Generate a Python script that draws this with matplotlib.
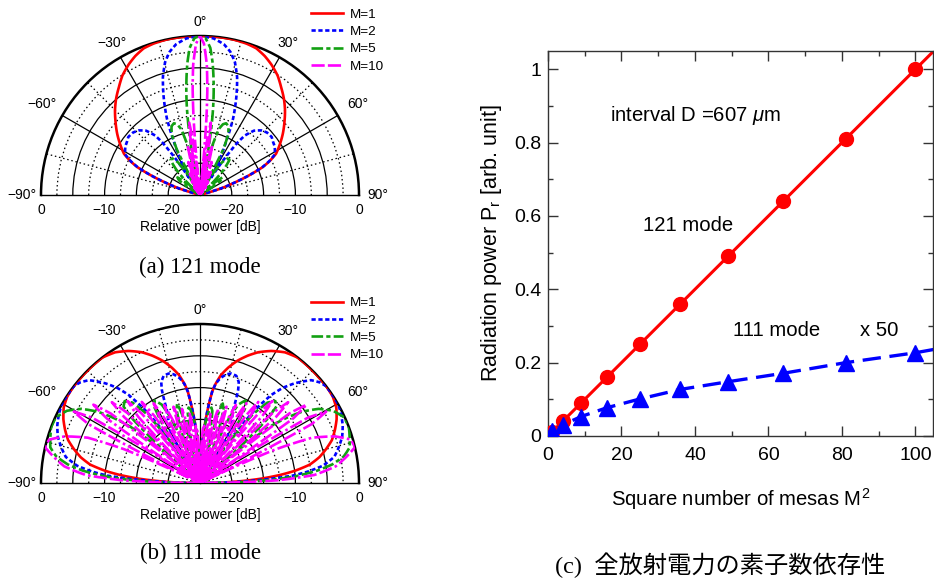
import numpy as np
import matplotlib
matplotlib.use("Agg")
import matplotlib.pyplot as plt
from matplotlib.ticker import MultipleLocator

plt.rcParams['font.family'] = ['Liberation Sans', 'DejaVu Sans']
plt.rcParams['mathtext.fontset'] = 'custom'
plt.rcParams['mathtext.rm'] = 'Liberation Sans'
plt.rcParams['mathtext.it'] = 'Liberation Sans:italic'

# ---- (a) 121 mode: right half of each pattern, angle [deg] -> relative power [dB]
#      (patterns are symmetric, the left half is the mirror image)
a_m1_th = [0, 6, 12, 17, 21, 25, 28.6, 33, 37, 41, 45, 49, 53.5, 57.5, 61.5, 64, 66, 68.6, 70.5,
           72.6, 74, 90]
a_m1_db = [0, 0, 0, -0.1, -0.3, -0.9, -1.6, -2.6, -3.8, -4.9, -6.1, -7.4, -8.8, -10.1, -11.4,
           -12.8, -14.2, -17.2, -19.5, -21.5, -25, -25]
a_m2_th = [0, 5, 9, 12, 14.7, 17.5, 20.1, 23.4, 25.9, 28.5, 31, 32.5, 34, 35.5, 37, 40, 43.5, 47,
           51, 54, 57, 61.5, 64, 66, 68.6, 70.5, 72.6, 74, 90]
a_m2_db = [0, -0.3, -1.0, -2.0, -3.4, -5.6, -8.3, -11.9, -15.5, -18.2, -20.5, -22, -18, -15, -13.3,
           -11.8, -11, -10.6, -10.5, -10.8, -11.0, -11.6, -12.9, -14.3, -17.2, -19.5, -21.5, -25, -25]
a_m5_th = [0, 2, 4, 5.5, 6.5, 7.5, 8.5, 9.5, 10.5, 11.5, 12.5, 14, 16, 18, 20, 22.5, 25, 27, 28.5,
           31, 34, 37, 40, 43, 45.5, 47, 49, 52, 55, 58, 60, 90]
a_m5_db = [0, -0.3, -1.8, -4.2, -6.3, -8.5, -11, -14, -18, -22, -25, -17, -14.2, -13.3, -13, -13.3,
           -14.5, -17, -25, -21, -18.8, -17.8, -17.8, -19.5, -22, -25, -22.5, -20.5, -21, -23.5,
           -25, -25]
a_m10_th = [0, 1.5, 3, 4, 4.8, 5.4, 5.9, 7.3, 8.5, 9.8, 11.2, 12.6, 14, 15.4, 16.7, 18.1, 19.5,
            20.9, 22.2, 23.6, 25, 26.5, 28, 29.5, 31, 32.5, 34, 35.5, 37, 38.5, 40, 90]
a_m10_db = [0, -1.2, -4.5, -8.5, -13, -18, -25, -16.5, -13.5, -16.5, -25, -20, -17, -20, -25,
            -22.5, -19.5, -22.5, -25, -23.3, -21, -23.3, -25, -24, -22.5, -24, -25, -24.5, -23.5,
            -24.5, -25, -25]

# ---- (b) 111 mode
b_m1_th = [0, 2, 4.8, 6.2, 7.6, 8.7, 11, 13.8, 17, 20.6, 24, 28.4, 33, 38, 43, 48, 53, 57, 61, 65,
           68.5, 72, 75, 77.8, 80.5, 82.7, 84.3, 86, 87.5, 89, 90]
b_m1_db = [-25, -21, -15.6, -13, -10.5, -9.4, -7.7, -6.3, -4.9, -3.6, -2.5, -1.4, -0.5, 0, 0, 0, 0,
           -0.1, -0.5, -1.3, -2.2, -3.2, -4.5, -5.8, -7.5, -10, -12.4, -15.5, -18.7, -22, -25]
b_m2_th = [0, 2, 4.8, 6.2, 7.6, 9, 11, 13.7, 16, 18.7, 21, 22.3, 24.4, 26.5, 29.4, 31, 32.5, 33.5,
           35, 37, 39, 41, 43.5, 47.2, 50, 52.5, 56, 60.5, 63.8, 68, 72, 76, 79, 82, 84, 85.5, 87,
           88.5, 90]
b_m2_db = [-25, -21, -15.6, -13, -10.5, -9.2, -8.2, -7.4, -7.1, -7.2, -8, -9.2, -12.4, -13.8, -15.4,
           -17.5, -21, -25, -16, -10.5, -7.2, -5.2, -3.4, -1.2, -0.4, 0, 0, 0, -0.3, -0.8, -1.5,
           -2.6, -3.5, -5.5, -8, -10.5, -15.3, -20, -25]
b_m5_th = [0, 2, 4, 6, 7.5, 8.6, 9.7, 11, 12, 12.8, 13.6, 14.5, 16, 17.6, 19, 20.5, 21.5, 22.5, 24,
           26, 28.8, 31, 32.5, 33.5, 34.3, 35.5, 37.5, 40, 42.6, 45, 46.5, 47.8, 48.5, 49.5, 51,
           53, 55, 58, 61.5, 65.5, 69.5, 73, 76.6, 79.5, 82, 84, 86, 87.5, 89, 90]
b_m5_db = [-25, -21, -17, -14.5, -13.3, -13, -13.5, -16, -20, -25, -18, -14, -12, -12.8, -15, -19,
           -25, -19, -14, -11.3, -10.2, -11, -14, -18, -25, -17, -11.5, -8.5, -7.5, -8, -10.5, -16,
           -25, -16, -11, -8, -5.5, -3, -1.2, -0.1, 0, -0.4, -0.8, -2, -4, -6.5, -10, -14, -19, -25]
b_m10_th = [0, 1.5, 3, 4.3, 5.3, 6, 7, 8.5, 10, 11, 12.2, 13.7, 15.2, 16.5, 17.7, 19.2, 20.7, 22,
            23.2, 24.7, 26.2, 27.5, 28.7, 30.2, 31.7, 33, 34.2, 35.7, 37.2, 38.5, 40, 41.5, 43,
            44.5, 46, 47.5, 49, 50.5, 52.1, 53.7, 55.3, 57, 58.8, 60.5, 62.2, 64, 66, 68, 71, 74,
            77, 80, 83, 86, 88, 90]
b_m10_db = [-25, -21, -16.5, -16, -19, -25, -17, -14, -17, -25, -16, -13, -16, -25, -15.3, -12.3,
            -15.3, -25, -14.5, -11.5, -14.5, -25, -13.5, -10.5, -13.5, -25, -12.3, -9.3, -12.3, -25,
            -10.8, -7.8, -10.8, -25, -9.2, -6.2, -9.2, -25, -7.2, -4.2, -7.2, -25, -5.2, -2.2, -5.2,
            -25, -12, -6, -2.5, -0.3, 0, -1.7, -3.5, -7, -12.8, -25]

labels = ["M=1", "M=2", "M=5", "M=10"]

# ---- (c) total radiation power vs number of mesas
m_sq = [1, 4, 9, 16, 25, 36, 49, 64, 81, 100]
p121 = [0.01, 0.04, 0.09, 0.16, 0.25, 0.36, 0.49, 0.64, 0.81, 1.0]
p111 = [0.015, 0.030, 0.053, 0.077, 0.101, 0.127, 0.148, 0.171, 0.200, 0.227]
line_x = [0, 1, 4, 9, 16, 25, 36, 49, 64, 81, 100, 110]
line121 = [0, 0.01, 0.04, 0.09, 0.16, 0.25, 0.36, 0.49, 0.64, 0.81, 1.0, 1.10]
line111 = [0.012, 0.016, 0.030, 0.053, 0.077, 0.101, 0.127, 0.148, 0.171, 0.200, 0.227, 0.245]

colors = ["#ff0000", "#0000ff", "#12a012", "#ff00ff"]
dashes = ["-", (0, (1.6, 1.0)), (0, (4.4, 1.2, 1.6, 1.2)), (0, (5, 1.2, 5, 1.2, 1, 1.2))]


def mirror(th, db):
    th = np.asarray(th, float)
    db = np.asarray(db, float)
    return (np.radians(np.concatenate([-th[::-1], th[1:]])),
            np.concatenate([db[::-1], db[1:]]))


fig = plt.figure(figsize=(9.34, 5.80), dpi=100)
W, H = 934.0, 580.0
R = 159.0   # radius of the half disk in pixels


def polar_panel(cx, cy, curves, leg_xy):
    # square box, the half disk sits vertically centred in it
    ax = fig.add_axes([(cx - R) / W, (H - cy - R / 2) / H, 2 * R / W, 2 * R / H], projection="polar")
    ax.set_thetamin(-90)
    ax.set_thetamax(90)
    ax.set_theta_zero_location("N")
    ax.set_theta_direction(-1)
    ax.set_ylim(-25, 0)
    ax.set_xticks(np.radians([-60, -30, 0, 30, 60]))
    ax.set_xticks(np.radians([-75, -45, -15, 15, 45, 75]), minor=True)
    ax.set_yticks([-20, -15, -10, -5])
    ax.set_yticks([-17.5, -12.5, -7.5, -2.5], minor=True)
    ax.set_xticklabels([])
    ax.set_yticklabels([])
    ax.tick_params(which="both", length=0)
    ax.grid(True, which="major", color="k", lw=0.9, ls="-")
    ax.grid(True, which="minor", color="k", lw=0.9, ls=(0, (1.2, 2.2)))
    ax.spines["polar"].set_linewidth(1.8)
    ax.spines["start"].set_linewidth(1.0)
    ax.spines["end"].set_linewidth(1.0)
    handles = []
    for (th, db), c, ls, lab in zip(curves, colors, dashes, labels):
        t, r = mirror(th, db)
        ln, = ax.plot(t, r, color=c, lw=1.9, ls=ls, label=lab, zorder=3)
        ln.get_path()._interpolation_steps = 16   # draw segments curved in polar space
        handles.append(ln)
    for ang, rr in [(0, 2.2), (30, 2.6), (-30, 2.6), (60, 3.6), (-60, 3.6), (90, 3.0), (-90, 3.0)]:
        s = ("%d°" % abs(ang)) if ang >= 0 else ("−%d°" % abs(ang))
        ax.text(np.radians(ang), rr, s, ha="center", va="center", fontsize=10, clip_on=False)
    for side in (-90, 90):
        for rv, s in [(0, "0"), (-10, "−10"), (-20, "−20")]:
            ax.annotate(s, xy=(np.radians(side), rv), xytext=(0, -11), textcoords="offset points",
                        ha="center", va="center", fontsize=10, annotation_clip=False)
    ax.annotate("Relative power [dB]", xy=(0, -25), xytext=(0, -23), textcoords="offset points",
                ha="center", va="center", fontsize=10, annotation_clip=False)
    fig.legend(handles=handles, loc="upper left", bbox_to_anchor=leg_xy, frameon=False,
               fontsize=9.7, handlelength=2.4, handletextpad=0.5, labelspacing=0.36,
               borderpad=0, borderaxespad=0)
    return ax


polar_panel(200, 195,
            [(a_m1_th, a_m1_db), (a_m2_th, a_m2_db), (a_m5_th, a_m5_db), (a_m10_th, a_m10_db)],
            (311 / W, 1 - 8.5 / H))
polar_panel(200, 483,
            [(b_m1_th, b_m1_db), (b_m2_th, b_m2_db), (b_m5_th, b_m5_db), (b_m10_th, b_m10_db)],
            (311 / W, 1 - 297 / H))

# ---- right panel
ax3 = fig.add_axes([548 / W, 144 / H, 385 / W, 385 / H])
ax3.plot(line_x, line121, color="#ff0000", lw=2.2, zorder=2)
ax3.plot(m_sq, p121, "o", color="#ff0000", ms=10, zorder=3)
ax3.plot(line_x, line111, color="#0000ff", lw=2.4, ls=(0, (5.5, 2.6)), zorder=2)
ax3.plot(m_sq, p111, "^", color="#0000ff", ms=11, zorder=3)
ax3.set_xlim(0, 104.8)
ax3.set_ylim(0, 1.05)
ax3.set_xticks([0, 20, 40, 60, 80, 100])
ax3.xaxis.set_minor_locator(MultipleLocator(10))
ax3.set_yticks([0, 0.2, 0.4, 0.6, 0.8, 1.0])
ax3.set_yticklabels(["0", "0.2", "0.4", "0.6", "0.8", "1"])
ax3.yaxis.set_minor_locator(MultipleLocator(0.1))
ax3.tick_params(which="both", direction="in", top=True, right=True, labelsize=14, width=1,
                color="#333333")
ax3.tick_params(which="major", length=7)
ax3.tick_params(which="minor", length=3.5)
ax3.tick_params(axis="x", pad=8)
ax3.tick_params(axis="y", pad=5)
for sp in ax3.spines.values():
    sp.set_color("#333333")
    sp.set_linewidth(1.0)
ax3.set_xlabel("Square number of mesas M$^2$", fontsize=14.6, labelpad=16)
ax3.set_ylabel("Radiation power P$_\\mathrm{r}$ [arb. unit]", fontsize=15.5, labelpad=7)
ax3.text(16.8, 0.875, "interval D =607 $\\mu$m", fontsize=14.6, va="center")
ax3.text(25.8, 0.575, "121 mode", fontsize=14.6, va="center")
ax3.text(50.4, 0.287, "111 mode", fontsize=14.6, va="center")
ax3.text(84.9, 0.287, "x 50", fontsize=14.6, va="center")

cap = ["Liberation Serif", "Noto Sans CJK JP"]
fig.text(200 / W, 1 - 267 / H, "(a) 121 mode", ha="center", va="center", fontsize=16.5, family=cap)
fig.text(200 / W, 1 - 553 / H, "(b) 111 mode", ha="center", va="center", fontsize=16.5, family=cap)
fig.text(720 / W, 1 - 565 / H, "(c)  全放射電力の素子数依存性", ha="center", va="center",
         fontsize=17.5, family=cap)

fig.savefig("out.png", dpi=100)
